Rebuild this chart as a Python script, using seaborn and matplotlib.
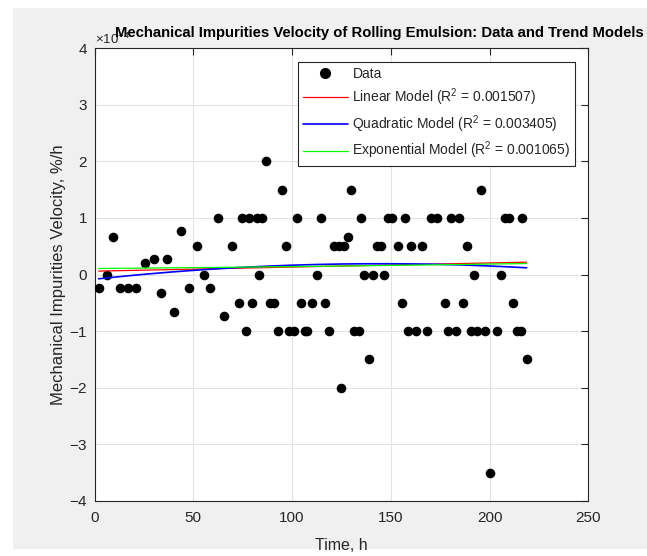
import numpy as np
import pandas as pd
import seaborn as sns
import matplotlib
matplotlib.use("Agg")
import matplotlib.pyplot as plt
from matplotlib.ticker import ScalarFormatter, FixedLocator
from matplotlib.patches import Rectangle
from matplotlib.lines import Line2D

# ---------------- data ----------------
time_h = [2.1, 6.2, 9.4, 12.9, 17.0, 21.2, 25.4, 30.0, 33.5, 36.9,
          40.4, 44.0, 47.8, 51.9, 55.3, 58.5, 62.4, 65.7, 69.8, 73.0,
          74.7, 76.5, 78.1, 79.7, 82.1, 83.3, 85.0, 86.8, 88.9, 90.9,
          92.9, 94.8, 96.8, 98.5, 101.0, 102.7, 104.7, 106.4, 107.8, 110.0,
          112.6, 114.5, 116.5, 118.9, 121.1, 123.6, 124.8, 126.5, 128.2, 129.9,
          131.6, 133.8, 134.8, 136.6, 138.8, 141.0, 143.2, 144.9, 146.7, 148.6,
          150.6, 153.8, 155.7, 157.4, 158.7, 160.4, 163.0, 165.8, 168.4, 170.5,
          173.6, 177.6, 179.0, 180.7, 182.9, 184.6, 186.7, 188.4, 190.5, 192.2,
          193.8, 195.9, 197.7, 200.0, 203.6, 205.7, 207.8, 209.9, 211.7, 213.8,
          215.8, 216.6, 218.8]
# velocity in units of 1e-4 %/h
velocity = [-0.235, 0.0, 0.667, -0.235, -0.235, -0.235, 0.206, 0.265, -0.32, 0.265,
            -0.66, 0.765, -0.235, 0.5, 0.0, -0.235, 1.0, -0.735, 0.5, -0.5,
            1.0, -1.0, 1.0, -0.5, 1.0, 0.0, 1.0, 2.0, -0.5, -0.5,
            -1.0, 1.5, 0.5, -1.0, -1.0, 1.0, -0.5, -1.0, -1.0, -0.5,
            0.0, 1.0, -0.5, -1.0, 0.5, 0.5, -2.0, 0.5, 0.667, 1.5,
            -1.0, -1.0, 1.0, 0.0, -1.5, 0.0, 0.5, 0.5, 0.0, 1.0,
            1.0, 0.5, -0.5, 1.0, -1.0, 0.5, -1.0, 0.5, -1.0, 1.0,
            1.0, -0.5, -1.0, 1.0, -1.0, 1.0, -0.5, 0.5, -1.0, 0.0,
            -1.0, 1.5, -1.0, -3.5, -1.0, 0.0, 1.0, 1.0, -0.5, -1.0,
            -1.0, 1.0, -1.5]
value_scale = 1e-4

# trend-model coefficients (units of 1e-4 %/h)
linear_coef = [0.0585, 0.000728]                 # a + b*t
quadratic_coef = [-0.0835, 0.003787, -1.309e-5]  # a + b*t + c*t^2
exponential_coef = [0.1054, 0.002786]            # a * exp(b*t)

model_names = ["Linear Model", "Quadratic Model", "Exponential Model"]
model_r2 = ["0.001507", "0.003405", "0.001065"]
x_ticks = [0, 50, 100, 150, 200, 250]
y_ticks = [-4, -3, -2, -1, 0, 1, 2, 3, 4]

title = "Mechanical Impurities Velocity of Rolling Emulsion: Data and Trend Models"
x_label = "Time, h"
y_label = "Mechanical Impurities Velocity, %/h"

# ---------------- style ----------------
sns.set_theme(style="white")
fam = ["Liberation Sans", "DejaVu Sans"]
plt.rcParams["font.family"] = fam
plt.rcParams["mathtext.default"] = "regular"
plt.rcParams["axes.unicode_minus"] = False

W, H = 647, 556
fig = plt.figure(figsize=(W / 100, H / 100), dpi=100)
fig.patch.set_facecolor("white")
fig.patches.append(Rectangle((13 / W, 1 - 549 / H), 1 - 13 / W, (549 - 8) / H,
                             transform=fig.transFigure, facecolor="#f0f0f0",
                             edgecolor="none", zorder=-10))

ax_l, ax_r, ax_t, ax_b = 94.5, 588.3, 48.0, 501.0
ax = fig.add_axes([ax_l / W, 1 - ax_b / H, (ax_r - ax_l) / W, (ax_b - ax_t) / H])
ax.set_facecolor("white")

t = np.array(time_h, dtype=float)
v = np.array(velocity, dtype=float) * value_scale

# ---------------- trend curves ----------------
tt = np.linspace(t.min(), t.max(), 300)
lin = np.polyval(linear_coef[::-1], tt)
quad = np.polyval(quadratic_coef[::-1], tt)
expo = exponential_coef[0] * np.exp(exponential_coef[1] * tt)
fits = pd.DataFrame({
    "t": np.concatenate([tt, tt, tt]),
    "v": np.concatenate([lin, quad, expo]) * value_scale,
    "model": np.repeat(model_names, len(tt)),
})
data = pd.DataFrame({"t": t, "v": v})

sns.scatterplot(data=data, x="t", y="v", ax=ax, color="black", s=48,
                edgecolor="black", linewidth=0, zorder=3, legend=False)
colors = {"Linear Model": "#ff0000", "Quadratic Model": "#0000ff", "Exponential Model": "#00ff00"}
widths = {"Linear Model": 0.9, "Quadratic Model": 1.2, "Exponential Model": 0.9}
for m in model_names:
    sns.lineplot(data=fits[fits.model == m], x="t", y="v", ax=ax, color=colors[m],
                 linewidth=widths[m], zorder=4, legend=False)

# ---------------- axes ----------------
ax.set_xlim(0, 250)
ax.set_ylim(-4 * value_scale, 4 * value_scale)
ax.xaxis.set_major_locator(FixedLocator(x_ticks))
ax.yaxis.set_major_locator(FixedLocator([y * value_scale for y in y_ticks]))
fmt = ScalarFormatter(useMathText=True)
fmt.set_powerlimits((-3, 3))
ax.yaxis.set_major_formatter(fmt)
ax.grid(True, color="#e3e3e3", linewidth=0.8)
ax.set_axisbelow(True)
for s in ax.spines.values():
    s.set_color("#262626")
    s.set_linewidth(0.8)
ax.tick_params(axis="both", direction="in", length=5, width=0.8, top=True, right=True,
               labelsize=11, color="#262626", labelcolor="#262626")
ax.tick_params(axis="x", pad=7)
ax.tick_params(axis="y", pad=5)
ax.yaxis.get_offset_text().set_fontsize(9.5)
ax.yaxis.get_offset_text().set_color("#262626")

ax.set_xlabel(x_label, fontsize=11.5, color="#262626")
ax.xaxis.set_label_coords((341 - ax_l) / (ax_r - ax_l), -(545 - ax_b) / (ax_b - ax_t))
ax.xaxis.label.set_va("center")
ax.set_ylabel(y_label, fontsize=12, color="#262626")
ax.yaxis.set_label_coords((59 - ax_l) / (ax_r - ax_l), 0.5)
ax.yaxis.label.set_va("center")

fig.text(379 / W, 1 - 33 / H, title, ha="center", va="center",
         fontsize=10.7, fontweight="bold", color="black")

# ---------------- legend ----------------
handles = [Line2D([], [], marker="o", color="black", linestyle="none", markersize=7)]
labels = ["Data"]
for m, r2 in zip(model_names, model_r2):
    handles.append(Line2D([], [], color=colors[m], linewidth=widths[m]))
    labels.append(f"{m} (R$^2$ = {r2})")
leg = ax.legend(handles, labels, loc="upper right",
                bbox_to_anchor=(1 - 13 / (ax_r - ax_l), 1 - 14 / (ax_b - ax_t)),
                borderaxespad=0, fontsize=10, frameon=True, fancybox=False,
                framealpha=1, edgecolor="#262626", handlelength=3.2,
                handletextpad=0.35, labelspacing=0.38, borderpad=0.35)
leg.get_frame().set_linewidth(0.8)
for txt in leg.get_texts():
    txt.set_color("#262626")

fig.savefig("out.png", dpi=100)
